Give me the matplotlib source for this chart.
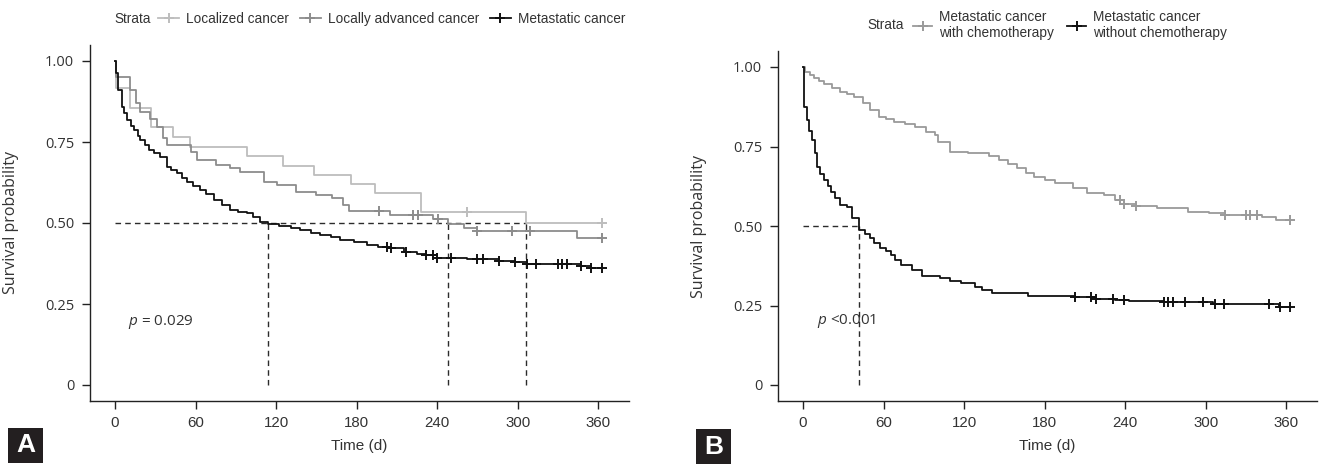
import numpy as np
import matplotlib
matplotlib.use("Agg")
import matplotlib.pyplot as plt
from matplotlib import font_manager
from matplotlib.lines import Line2D
from matplotlib.patches import Rectangle

# ---------------------------------------------------------------- data
# Panel A: Kaplan-Meier steps (event times in days, survival after the step)
loc_t = [0, 1, 11, 27, 43, 56, 98, 125, 148, 176, 194, 228, 306]
loc_s = [1.0, 0.916, 0.855, 0.797, 0.766, 0.735, 0.707, 0.677, 0.648, 0.619, 0.592, 0.533, 0.500]
loc_cens = [262, 363]

adv_t = [0, 1, 11, 16, 19, 26, 31, 36, 39, 57, 61, 75, 86, 93, 111, 121, 135, 150,
         162, 170, 174, 205, 237, 248, 260, 270, 344]
adv_s = [1.0, 0.952, 0.910, 0.870, 0.843, 0.820, 0.797, 0.761, 0.741, 0.720, 0.694, 0.679,
         0.669, 0.658, 0.627, 0.617, 0.597, 0.586, 0.576, 0.556, 0.538, 0.525, 0.511, 0.496,
         0.484, 0.476, 0.455]
adv_cens = [197, 222, 226, 241, 270, 296, 309, 363]

met_t = [0, 1, 2.5, 5, 7, 9, 12, 14, 17, 19, 22, 25, 29, 33.5, 38.5, 42, 46, 50, 53.5,
         58, 63.5, 68, 73.5, 80, 86, 92, 98, 103, 108, 114, 122, 131, 138, 146, 153, 161,
         168, 178, 188, 196, 203, 215, 225, 232, 240, 262, 270, 286, 298, 307, 329, 347, 355]
met_s = [1.0, 0.962, 0.910, 0.859, 0.838, 0.818, 0.800, 0.787, 0.770, 0.756, 0.741, 0.725,
         0.715, 0.705, 0.674, 0.665, 0.653, 0.640, 0.627, 0.615, 0.602, 0.588, 0.571, 0.556,
         0.540, 0.535, 0.530, 0.517, 0.504, 0.498, 0.491, 0.484, 0.477, 0.468, 0.462, 0.456,
         0.448, 0.440, 0.432, 0.427, 0.422, 0.411, 0.405, 0.401, 0.393, 0.390, 0.388, 0.384,
         0.380, 0.375, 0.373, 0.367, 0.362]
met_cens = [202.5, 206, 217, 232, 237, 240, 250, 270, 274.5, 286, 298, 307, 314, 330,
            333, 337, 347, 355, 363]

medians_a = [114, 248, 306]

# Panel B: metastatic cancer split by chemotherapy
chemo_t = [0, 1.6, 5, 8.4, 12, 15.7, 21.9, 27.7, 33, 38.1, 44.6, 50.1, 56.4, 62, 67.9, 76,
           83.5, 91.9, 98.1, 100.7, 109.6, 122.9, 138.5, 146.2, 153, 159.4, 166, 172.3, 180,
           187.9, 201.2, 211.4, 224.5, 232.5, 239.1, 248.2, 263.8, 287.1, 302.8, 314.8,
           342.1, 352.6]
chemo_s = [1.0, 0.985, 0.975, 0.965, 0.956, 0.948, 0.935, 0.922, 0.914, 0.907, 0.886,
           0.865, 0.844, 0.836, 0.828, 0.820, 0.812, 0.797, 0.786, 0.765, 0.734, 0.728,
           0.720, 0.708, 0.694, 0.681, 0.668, 0.655, 0.645, 0.634, 0.618, 0.603, 0.597,
           0.582, 0.569, 0.564, 0.556, 0.545, 0.540, 0.535, 0.529, 0.519]
chemo_cens = [236.5, 239.1, 248.3, 314.8, 330.4, 333, 338.3, 363]

nochemo_t = [0, 0.8, 2.9, 4.7, 6.8, 8.9, 10.8, 13, 15.9, 18.3, 21.1, 24, 27.7, 32.9,
             36.7, 42, 45.9, 49.8, 53.2, 57.6, 61.6, 65.5, 68.9, 73.3, 81.1, 88.9, 102,
             109.6, 117.7, 128.1, 133.6, 141.1, 167.4, 202.5, 218.2, 232.5, 242.9, 269,
             305.6, 355]
nochemo_s = [1.0, 0.875, 0.833, 0.800, 0.770, 0.728, 0.687, 0.665, 0.645, 0.626, 0.608,
             0.587, 0.566, 0.561, 0.524, 0.487, 0.474, 0.461, 0.445, 0.430, 0.420, 0.409,
             0.393, 0.377, 0.362, 0.343, 0.335, 0.327, 0.320, 0.309, 0.298, 0.288, 0.280,
             0.276, 0.270, 0.267, 0.264, 0.260, 0.254, 0.246]
nochemo_cens = [202.5, 214.3, 218.2, 231.2, 239.1, 269.1, 271.8, 275.6, 284.8, 297.9,
                306.9, 313.5, 347.4, 355.3, 363]

medians_b = [42]

x_ticks = [0, 60, 120, 180, 240, 300, 360]
y_ticks = [0, 0.25, 0.50, 0.75, 1.00]
y_tick_labels = ["0", "0.25", "0.50", "0.75", "1.00"]

# ---------------------------------------------------------------- fonts
_names = {f.name for f in font_manager.fontManager.ttflist}
NARROW = "Liberation Sans Narrow" if "Liberation Sans Narrow" in _names else "Liberation Sans"
PLAIN = "Open Sans"
plt.rcParams["font.family"] = [PLAIN, "DejaVu Sans"]
plt.rcParams["mathtext.fontset"] = "custom"
plt.rcParams["mathtext.it"] = "Open Sans:italic"
plt.rcParams["mathtext.rm"] = "Open Sans"

W, H = 1328, 467
fig = plt.figure(figsize=(W / 100, H / 100), dpi=100)

TXT = "#333333"
C_LIGHT = "#bdbdbd"
C_MID = "#8c8c8c"
C_CHEMO = "#9a9a9a"
C_DARK = "#111111"
LEG_FS = 9.8


def fig_axes(left, right, top, bottom):
    return fig.add_axes([left / W, 1 - bottom / H, (right - left) / W, (bottom - top) / H])


def km_panel(ax, curves, medians, ptext, pxy):
    for t, s, cens, color in curves:
        t = np.asarray(t, float)
        s = np.asarray(s, float)
        tt = np.append(t, max(cens))
        ss = np.append(s, s[-1])
        ax.step(tt, ss, where="post", color=color, lw=1.3, zorder=3)
        idx = np.searchsorted(t, cens, side="right") - 1
        ax.plot(cens, s[idx], ls="none", marker="+", ms=7, mew=1.4, color=color, zorder=4)
    dash = dict(color="#2b2b2b", lw=1.0, ls=(0, (4, 3)), zorder=2)
    ax.plot([0, max(medians)], [0.5, 0.5], **dash)
    for m in medians:
        ax.plot([m, m], [0, 0.5], **dash)
    ax.text(pxy[0], pxy[1], ptext, fontsize=11, color=TXT, ha="left", va="center")

    ax.set_xlim(-19, 383)
    ax.set_ylim(-0.05, 1.05)
    ax.set_xticks(x_ticks)
    ax.set_xticklabels([str(v) for v in x_ticks], family="Liberation Sans", fontsize=10.8)
    ax.set_yticks(y_ticks)
    ax.set_yticklabels(y_tick_labels, fontsize=10.5)
    for sp in ("top", "right"):
        ax.spines[sp].set_visible(False)
    for sp in ("left", "bottom"):
        ax.spines[sp].set_color("#222222")
        ax.spines[sp].set_linewidth(1.0)
    ax.tick_params(length=6, width=1.0, color="#222222", labelcolor=TXT)
    ax.tick_params(axis="x", pad=5)
    ax.tick_params(axis="y", pad=5)
    ax.set_xlabel("Time (d)", family="Liberation Sans", fontsize=11, color=TXT, labelpad=6)
    ax.set_ylabel("Survival probability", fontsize=11.5, color=TXT, labelpad=8)


def legend_key(color):
    return Line2D([], [], color=color, lw=1.3, marker="+", ms=7, mew=1.4)


def panel_letter(x0, y0, letter):
    fig.add_artist(Rectangle((x0 / W, 1 - (y0 + 35) / H), 35 / W, 35 / H,
                             transform=fig.transFigure, color="#231f20", lw=0))
    fig.text((x0 + 17.5) / W, 1 - (y0 + 17.5) / H, letter, color="white",
             family=NARROW, weight="bold", fontsize=19, ha="center", va="center")


# ---------------------------------------------------------------- panel A
ax_a = fig_axes(89.5, 629, 44.8, 401.2)
km_panel(ax_a,
         [(loc_t, loc_s, loc_cens, C_LIGHT),
          (adv_t, adv_s, adv_cens, C_MID),
          (met_t, met_s, met_cens, C_DARK)],
         medians_a, r"$\mathit{p}$ = 0.029", (9.7, 0.195))
ax_a.yaxis.set_label_coords(-0.13, 0.5)

fig.text(114 / W, 1 - 19 / H, "Strata", family=NARROW, fontsize=LEG_FS, color=TXT,
         va="center")
fig.legend([legend_key(C_LIGHT), legend_key(C_MID), legend_key(C_DARK)],
           ["Localized cancer", "Locally advanced cancer", "Metastatic cancer"],
           loc="center left", bbox_to_anchor=(158 / W, 1 - 19 / H), ncol=3,
           frameon=False, borderpad=0, borderaxespad=0, handlelength=1.55,
           handletextpad=0.5, columnspacing=0.8, prop=dict(family=NARROW, size=LEG_FS),
           labelcolor=TXT)
panel_letter(8, 428, "A")

# ---------------------------------------------------------------- panel B
ax_b = fig_axes(777.5, 1317, 51.1, 400.9)
km_panel(ax_b,
         [(chemo_t, chemo_s, chemo_cens, C_CHEMO),
          (nochemo_t, nochemo_s, nochemo_cens, C_DARK)],
         medians_b, r"$\mathit{p}$ <0.001", (10.2, 0.20))
ax_b.yaxis.set_label_coords(-0.13, 0.5)

fig.text(867 / W, 1 - 25 / H, "Strata", family=NARROW, fontsize=LEG_FS, color=TXT,
         va="center")
fig.legend([legend_key(C_CHEMO), legend_key(C_DARK)],
           ["Metastatic cancer\nwith chemotherapy", "Metastatic cancer\nwithout chemotherapy"],
           loc="center left", bbox_to_anchor=(913 / W, 1 - 25 / H), ncol=2,
           frameon=False, borderpad=0, borderaxespad=0, handlelength=1.4,
           handletextpad=0.5, columnspacing=1.0, prop=dict(family=NARROW, size=LEG_FS),
           labelcolor=TXT)
panel_letter(696, 429, "B")

fig.savefig("out.png", dpi=100)
